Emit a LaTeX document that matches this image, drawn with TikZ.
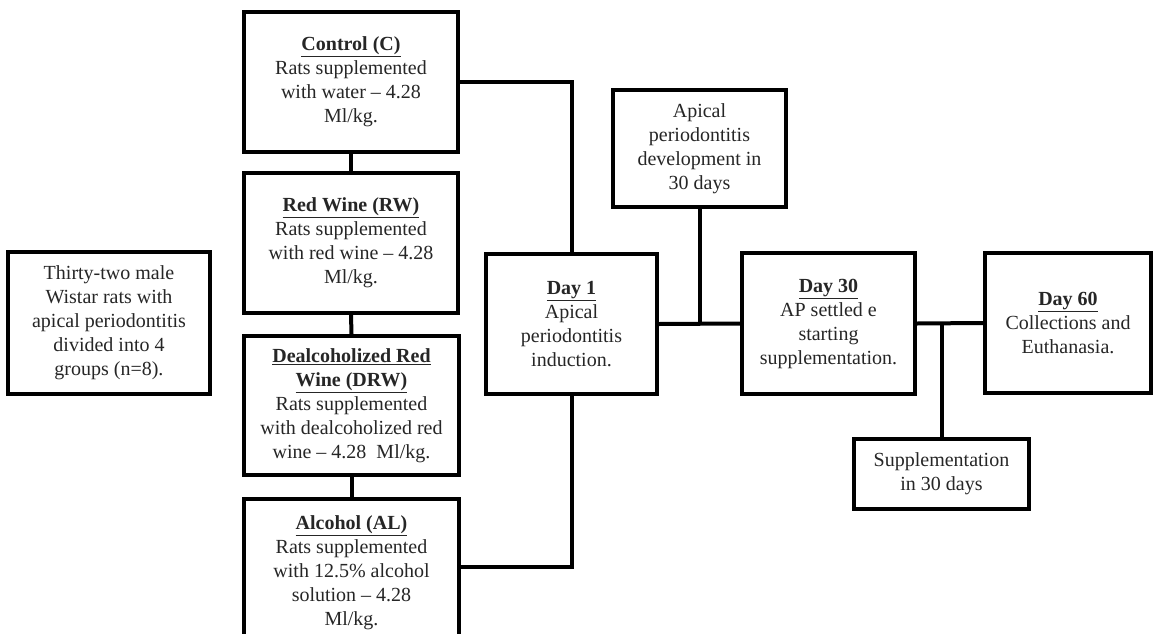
\documentclass[tikz,border=0pt]{standalone}
\usepackage{fontspec}
\setmainfont{Liberation Serif}
\begin{document}
\begin{tikzpicture}[x=1pt,y=-1pt,
  box/.style={draw=black,line width=4pt,rectangle,align=center,inner sep=2pt,
    font=\fontsize{20}{24}\selectfont,text=black!85},
  link/.style={draw=black,line width=4pt}]
\clip (0,0) rectangle (1153,634);
\fill[white] (0,0) rectangle (1153,634);
\newcommand{\hd}[1]{\underline{\textbf{#1}}}
\node[box,minimum width=202pt,minimum height=142pt] (grp) at (109,323)
  {Thirty-two male\\Wistar rats with\\apical periodontitis\\divided into 4\\groups (n=8).};
\node[box,minimum width=214pt,minimum height=140pt] (C) at (351,82)
  {\hd{Control (C)}\\Rats supplemented\\with water -- 4.28\\Ml/kg.};
\node[box,minimum width=214pt,minimum height=140pt] (RW) at (351,243)
  {\hd{Red Wine (RW)}\\Rats supplemented\\with red wine -- 4.28\\Ml/kg.};
\node[box,minimum width=215pt,minimum height=139pt] (DRW) at (351.5,405.5)
  {\hd{Dealcoholized Red}\\\hd{Wine (DRW)}\\Rats supplemented\\with dealcoholized red\\wine -- 4.28\ \ Ml/kg.};
\node[box,minimum width=215pt,minimum height=147pt] (AL) at (351.5,572.5)
  {\hd{Alcohol (AL)}\\Rats supplemented\\with 12.5\% alcohol\\solution -- 4.28\\Ml/kg.};
\node[box,minimum width=171pt,minimum height=140pt] (D1) at (571.5,324)
  {\hd{Day 1}\\Apical\\periodontitis\\induction.};
\node[box,minimum width=173pt,minimum height=117pt] (dev) at (699.5,148.5)
  {Apical\\periodontitis\\development in\\30 days};
\node[box,minimum width=173pt,minimum height=141pt] (D30) at (828.5,323.5)
  {\hd{Day 30}\\AP settled e\\starting\\supplementation.};
\node[box,minimum width=166pt,minimum height=140pt] (D60) at (1068,323)
  {\hd{Day 60}\\Collections and\\Euthanasia.};
\node[box,minimum width=175pt,minimum height=70pt] (sup) at (941.5,474)
  {Supplementation\\in 30 days};
\draw[link] (C.south) -- (RW.north);
\draw[link] (RW.south) -- (DRW.north);
\draw[link] (DRW.south) -- (AL.north);
\draw[link] (C.east) -| (D1.north);
\draw[link] ([yshift=5.5pt]AL.east) -| (D1.south);
\draw[link] (D1.east) -- (D30.west);
\coordinate (j1) at (dev.south |- D1.east);
\draw[link] (dev.south) -- (j1);
\draw[link] (D30.east) -- (D60.west);
\coordinate (j2) at (sup.north |- D30.east);
\draw[link] (sup.north) -- (j2);
\end{tikzpicture}
\end{document}
